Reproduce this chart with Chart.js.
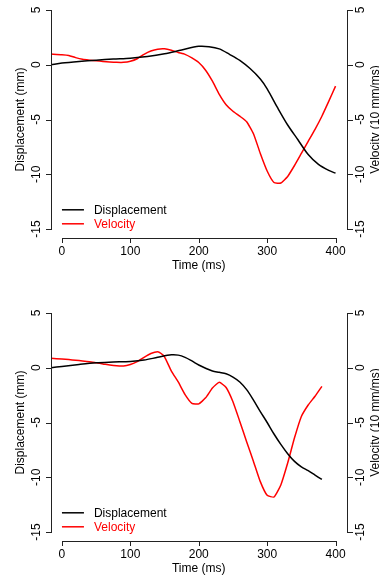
<!DOCTYPE html>
<html>
<head>
<meta charset="utf-8">
<script src="https://cdn.jsdelivr.net/npm/chart.js@4"></script>
<style>
  html, body { margin: 0; padding: 0; background: #fff; }
  body { width: 379px; height: 575px; position: relative; overflow: hidden; }
  canvas { position: absolute; left: 0; }
  #topChart { top: 0; }
  #bottomChart { top: 303px; }
</style>
</head>
<body>
<canvas id="topChart" width="379" height="273"></canvas>
<canvas id="bottomChart" width="379" height="273"></canvas>
<script>
// tick labels shared by both panels
const xTicks = [0, 100, 200, 300, 400];
const yTicks = [-15, -10, -5, 0, 5];

// top panel
const dispTimeTop = [-16, 0, 25, 50, 75, 100, 125, 150, 175, 200, 215, 230, 245, 260, 275, 290, 300, 315, 330, 345, 360, 375, 390, 400];
const dispTop = [0.0, 0.15, 0.3, 0.42, 0.52, 0.6, 0.75, 1.0, 1.35, 1.68, 1.65, 1.45, 0.95, 0.4, -0.35, -1.3, -2.2, -3.9, -5.5, -6.85, -8.2, -9.1, -9.65, -9.9];
const velTimeTop = [-16, 0, 10, 20, 30, 40, 50, 60, 70, 80, 90, 100, 110, 120, 130, 140, 150, 160, 170, 180, 190, 200,
  210, 220, 230, 240, 250, 260, 270, 280, 290, 300, 310, 320, 330, 340, 350, 360, 370, 380, 390, 400];
const velTop = [0.97, 0.92, 0.85, 0.65, 0.5, 0.42, 0.36, 0.3, 0.25, 0.22, 0.22, 0.32, 0.55, 0.95, 1.25, 1.42, 1.45, 1.32, 1.12, 0.95, 0.62, 0.2,
  -0.5, -1.5, -2.7, -3.65, -4.25, -4.7, -5.2, -6.3, -8.1, -9.7, -10.75, -10.8, -10.2, -9.2, -8.1, -7.0, -5.9, -4.7, -3.35, -1.95];

// bottom panel
const dispTimeBottom = [-16, 0, 25, 50, 75, 100, 120, 140, 160, 170, 180, 190, 200, 210, 220, 230, 240, 250, 260, 270, 280, 290, 300, 310, 320, 330, 340, 350, 360, 370, 380];
const dispBottom = [0.0, 0.12, 0.3, 0.45, 0.52, 0.58, 0.7, 0.95, 1.18, 1.15, 0.95, 0.62, 0.25, -0.05, -0.3, -0.42, -0.55, -0.85, -1.3, -2.0, -2.95, -4.0, -5.0, -6.05, -7.0, -7.85, -8.55, -9.05, -9.4, -9.8, -10.2];
const velTimeBottom = [-16, 0, 10, 20, 30, 40, 50, 60, 70, 80, 90, 100, 110, 120, 130, 140, 145, 150, 160, 170, 180, 190, 200,
  210, 220, 230, 240, 250, 260, 270, 280, 290, 300, 310, 320, 330, 340, 350, 360, 370, 380];
const velBottom = [0.86, 0.8, 0.75, 0.68, 0.62, 0.55, 0.45, 0.35, 0.24, 0.17, 0.16, 0.3, 0.55, 0.95, 1.3, 1.45, 1.3, 1.0, -0.3, -1.3, -2.45, -3.25, -3.3,
  -2.75, -1.85, -1.33, -1.8, -3.1, -4.9, -6.75, -8.55, -10.4, -11.65, -11.8, -10.7, -8.7, -6.4, -4.45, -3.4, -2.6, -1.7];

const FONT = '12px "Liberation Sans", Arial, Helvetica, sans-serif';

function toPoints(xs, ys) {
  return xs.map((t, i) => ({ x: t, y: ys[i] }));
}

function hline(ctx, x1, x2, y) {
  const yy = Math.round(y) + 0.5;
  ctx.beginPath(); ctx.moveTo(x1, yy); ctx.lineTo(x2, yy); ctx.stroke();
}
function vline(ctx, x, y1, y2) {
  const xx = Math.round(x) + 0.5;
  ctx.beginPath(); ctx.moveTo(xx, y1); ctx.lineTo(xx, y2); ctx.stroke();
}
function rotText(ctx, text, x, y) {
  ctx.save();
  ctx.translate(x, y);
  ctx.rotate(-Math.PI / 2);
  ctx.textAlign = 'center';
  ctx.textBaseline = 'alphabetic';
  ctx.fillText(text, 0, 0);
  ctx.restore();
}

// R-style axes: lines only span first..last tick, rotated y labels
const rAxes = {
  id: 'rAxes',
  afterDraw(chart) {
    const { ctx, chartArea, scales } = chart;
    const x = scales.x, y = scales.y, y2 = scales.y2;
    ctx.save();
    ctx.strokeStyle = '#222';
    ctx.fillStyle = '#000';
    ctx.lineWidth = 1;
    ctx.font = FONT;

    // bottom axis
    const yb = chartArea.bottom;
    hline(ctx, Math.round(x.getPixelForValue(xTicks[0])), Math.round(x.getPixelForValue(xTicks[xTicks.length - 1])) + 1, yb);
    ctx.textAlign = 'center';
    ctx.textBaseline = 'alphabetic';
    xTicks.forEach(t => {
      const px = x.getPixelForValue(t);
      vline(ctx, px, Math.round(yb), Math.round(yb) + 5);
      ctx.fillText(String(t), px, yb + 17);
    });
    ctx.fillText('Time (ms)', (chartArea.left + chartArea.right) / 2, yb + 31.5);

    // left axis
    const xl = chartArea.left;
    vline(ctx, xl, Math.round(y.getPixelForValue(yTicks[yTicks.length - 1])), Math.round(y.getPixelForValue(yTicks[0])) + 1);
    yTicks.forEach(v => {
      const py = y.getPixelForValue(v);
      hline(ctx, Math.round(xl) - 5, Math.round(xl), py);
      rotText(ctx, String(v), xl - 11.5, py);
    });
    rotText(ctx, 'Displacement (mm)', xl - 27, (chartArea.top + chartArea.bottom) / 2);

    // right axis
    const xr = chartArea.right;
    vline(ctx, xr, Math.round(y2.getPixelForValue(yTicks[yTicks.length - 1])), Math.round(y2.getPixelForValue(yTicks[0])) + 1);
    yTicks.forEach(v => {
      const py = y2.getPixelForValue(v);
      hline(ctx, Math.round(xr), Math.round(xr) + 6, py);
      rotText(ctx, String(v), xr + 17, py);
    });
    rotText(ctx, 'Velocity (10 mm/ms)', xr + 32, (chartArea.top + chartArea.bottom) / 2);

    // legend, bottom left inside the plot
    const lx = x.getPixelForValue(xTicks[0]);
    chart.data.datasets.forEach((ds, i) => {
      const ly = chartArea.bottom - 28 + i * 14;
      ctx.strokeStyle = ds.borderColor;
      ctx.lineWidth = 1.5;
      ctx.beginPath(); ctx.moveTo(lx, ly); ctx.lineTo(lx + 22, ly); ctx.stroke();
      ctx.fillStyle = ds.borderColor;
      ctx.textAlign = 'left';
      ctx.fillText(ds.label, lx + 32, ly + 4.5);
    });
    ctx.restore();
  }
};

function makeChart(id, dispT, disp, velT, vel) {
  const ctx = document.getElementById(id).getContext('2d');
  return new Chart(ctx, {
    type: 'line',
    data: {
      datasets: [
        { label: 'Displacement', data: toPoints(dispT, disp), borderColor: '#000000', yAxisID: 'y', tension: 0.3 },
        // velocity is sampled every 10 ms, so its corners stay visible
        { label: 'Velocity', data: toPoints(velT, vel), borderColor: '#ff0000', yAxisID: 'y2', tension: 0.15 }
      ]
    },
    options: {
      responsive: false,
      animation: false,
      layout: { padding: { left: 51, right: 32.5, top: 1.2, bottom: 273 - 237.8 } },
      plugins: { legend: { display: false }, tooltip: { enabled: false } },
      elements: {
        point: { radius: 0 },
        line: { borderWidth: 1.5, fill: false }
      },
      scales: {
        x: { type: 'linear', min: -16, max: 416, display: false },
        y: { type: 'linear', min: -15.8, max: 5.8, display: false, position: 'left' },
        y2: { type: 'linear', min: -15.8, max: 5.8, display: false, position: 'right' }
      }
    },
    plugins: [rAxes]
  });
}

makeChart('topChart', dispTimeTop, dispTop, velTimeTop, velTop);
makeChart('bottomChart', dispTimeBottom, dispBottom, velTimeBottom, velBottom);
</script>
</body>
</html>
